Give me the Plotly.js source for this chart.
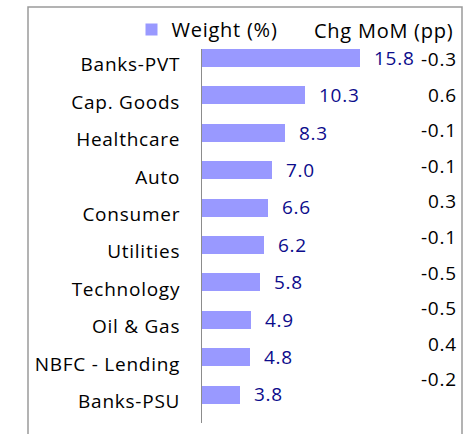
<!DOCTYPE html>
<html>
<head>
<meta charset="utf-8">
<script src="https://cdn.plot.ly/plotly-3.0.1.min.js"></script>
<style>
  html, body { margin: 0; padding: 0; background: #ffffff; }
  #chart { width: 472px; height: 434px; }
  svg text { letter-spacing: 0.75px; }
</style>
</head>
<body>
<div id="chart"></div>
<script>
// ---- data ----
var sectors = ["Banks-PVT", "Cap. Goods", "Healthcare", "Auto", "Consumer",
               "Utilities", "Technology", "Oil & Gas", "NBFC - Lending", "Banks-PSU"];
var weights = [15.8, 10.3, 8.3, 7.0, 6.6, 6.2, 5.8, 4.9, 4.8, 3.8];
var chgMoM  = [-0.3, 0.6, -0.1, -0.1, 0.3, -0.1, -0.5, -0.5, 0.4, -0.2];
var seriesName = "Weight (%)";
var chgHeader = "Chg MoM (pp)";

// ---- styles ----
var FONT = "Open Sans, Noto Sans, sans-serif";
var barColor = "#9999ff";
var valueColor = "#0c0c8c";
var textColor = "#000000";

var W = 472, H = 434;
var plotLeft = 202, plotTop = 48, plotRight = 452, plotBottom = 423;
var plotW = plotRight - plotLeft, plotH = plotBottom - plotTop;
function px2x(px) { return (px - plotLeft) / plotW; }
function px2y(py) { return (plotBottom - py) / plotH; }

var barTrace = {
  type: "bar",
  orientation: "h",
  name: seriesName,
  y: sectors,
  x: weights,
  width: 0.48,
  offset: -0.5,
  marker: { color: barColor, line: { width: 0 } },
  hoverinfo: "skip"
};

// helper trace to set up the category axis used by the change column
var chgAxisTrace = {
  type: "scatter",
  mode: "markers",
  y: sectors,
  x: weights,
  yaxis: "y2",
  marker: { opacity: 0, size: 1 },
  showlegend: false,
  hoverinfo: "skip"
};

var annotations = [];
sectors.forEach(function (s, i) {
  annotations.push({
    xref: "x", yref: "y",
    x: weights[i], y: s,
    text: weights[i].toFixed(1),
    showarrow: false,
    xanchor: "left", yanchor: "middle",
    xshift: 12, yshift: 10,
    font: { family: FONT, size: 19, color: valueColor }
  });
  annotations.push({
    xref: "paper", yref: "y2",
    x: px2x(459), y: s,
    text: chgMoM[i].toFixed(1),
    showarrow: false,
    xanchor: "right", yanchor: "middle",
    font: { family: FONT, size: 19, color: textColor }
  });
});
annotations.push({
  xref: "paper", yref: "paper",
  x: px2x(455), y: px2y(29),
  text: chgHeader,
  showarrow: false,
  xanchor: "right", yanchor: "middle",
  font: { family: FONT, size: 20, color: textColor }
});

// change column spacing (text boxes sit on their own, slightly tighter rhythm)
var chgStep = 35.7, chgFirst = 58;
var chgTopVal = -(chgFirst - plotTop) / chgStep;
var chgBotVal = chgTopVal + plotH / chgStep;

var layout = {
  width: W, height: H,
  margin: { l: plotLeft, r: W - plotRight, t: plotTop, b: H - plotBottom, pad: 0 },
  paper_bgcolor: "#ffffff",
  plot_bgcolor: "rgba(0,0,0,0)",
  font: { family: FONT, size: 19, color: textColor },
  xaxis: {
    range: [0, 25], visible: false, fixedrange: true
  },
  yaxis: {
    type: "category",
    categoryorder: "array", categoryarray: sectors,
    range: [9.5, -0.5],
    showline: true, linecolor: "#8c8c8c", linewidth: 1,
    showgrid: false, zeroline: false,
    ticks: "", ticklabelstandoff: 17, ticklabelshift: 3,
    tickfont: { family: FONT, size: 19, color: textColor },
    fixedrange: true
  },
  yaxis2: {
    type: "category",
    categoryorder: "array", categoryarray: sectors,
    overlaying: "y",
    range: [chgBotVal, chgTopVal],
    visible: false, fixedrange: true
  },
  showlegend: true,
  legend: {
    x: px2x(131.5), y: px2y(29.5),
    xanchor: "left", yanchor: "middle",
    bgcolor: "rgba(0,0,0,0)", borderwidth: 0,
    font: { family: FONT, size: 20, color: textColor },
    itemclick: false, itemdoubleclick: false
  },
  shapes: [{
    type: "rect", xref: "paper", yref: "paper",
    x0: px2x(28), x1: px2x(462), y0: px2y(445), y1: px2y(6),
    line: { color: "#9a9a9a", width: 1.5 },
    fillcolor: "rgba(0,0,0,0)", layer: "below"
  }],
  annotations: annotations,
  bargap: 0
};

Plotly.newPlot("chart", [barTrace, chgAxisTrace], layout, { displayModeBar: false, staticPlot: true });
</script>
</body>
</html>
